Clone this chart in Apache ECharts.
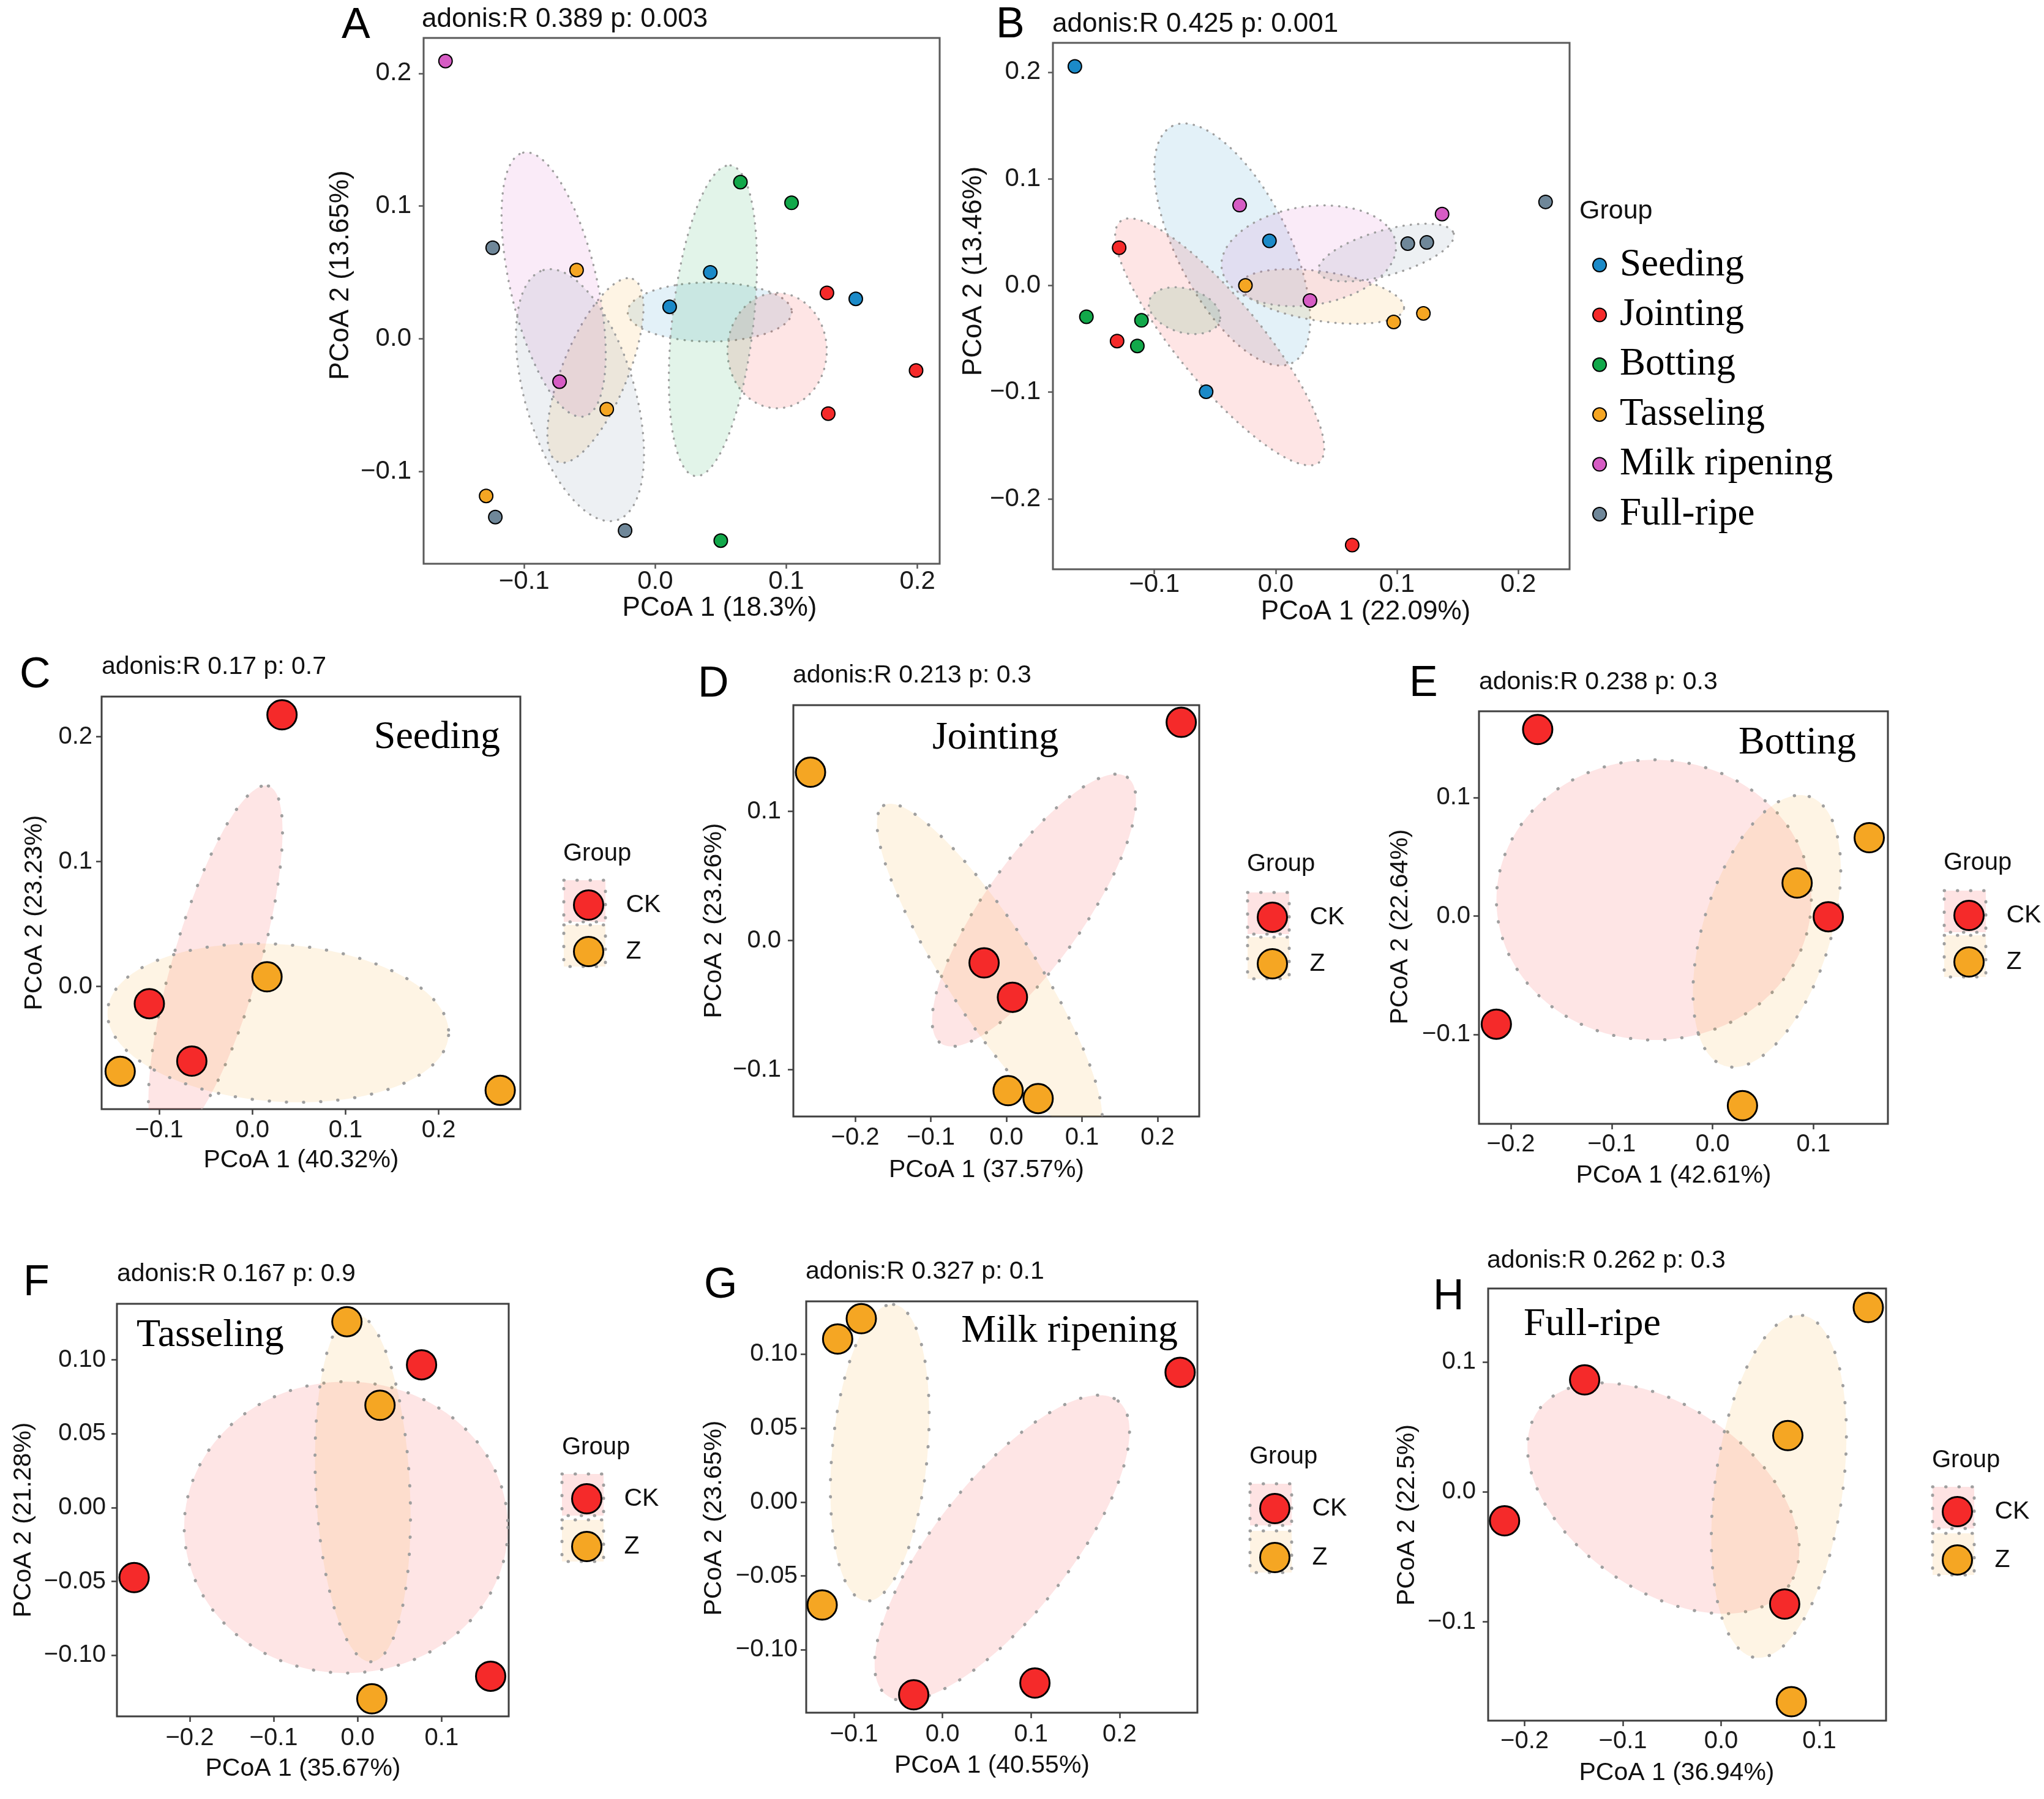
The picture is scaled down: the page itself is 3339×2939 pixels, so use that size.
<!DOCTYPE html>
<html><head><meta charset="utf-8">
<script src="https://cdn.jsdelivr.net/npm/echarts@6/dist/echarts.min.js"></script>
<style>html,body{margin:0;padding:0;background:#fff}#chart{width:3339px;height:2939px}</style>
</head><body><div id="chart"></div>
<script>
// ================= DATA =================
const stageGroups = ['Seeding','Jointing','Botting','Tasseling','Milk ripening','Full-ripe'];
const treatGroups = ['CK','Z'];

// ---- Panel A : all stages ----
const A_title = 'adonis:R 0.389 p: 0.003';
const A_xName = 'PCoA 1 (18.3%)';
const A_yName = 'PCoA 2 (13.65%)';
const A_xRange = [-0.1767, 0.217];
const A_yRange = [-0.1697, 0.2267];
const A_xTicks = [-0.1, 0, 0.1, 0.2];
const A_yTicks = [-0.1, 0, 0.1, 0.2];
const A_seeding   = [[0.011, 0.024], [0.042, 0.050], [0.153, 0.030]];
const A_jointing  = [[0.131, 0.0345], [0.199, -0.024], [0.132, -0.0565]];
const A_botting   = [[0.065, 0.118], [0.104, 0.1024], [0.050, -0.1523]];
const A_tasseling = [[-0.060, 0.0517], [-0.037, -0.0532], [-0.129, -0.1186]];
const A_milk      = [[-0.160, 0.2093], [-0.073, -0.0324]];
const A_fullripe  = [[-0.124, 0.0685], [-0.122, -0.1345], [-0.023, -0.1447]];
// ellipses: [centerX, centerY, tipX, tipY, minor/major ratio]
const A_ell_seeding   = [0.0416, 0.0201, 0.1042, 0.0201, 0.36];
const A_ell_jointing  = [0.093, -0.009, 0.093, 0.0345, 0.86];
const A_ell_botting   = [0.044, 0.0135, 0.0574, 0.1306, 0.26];
const A_ell_tasseling = [-0.0456, -0.024, -0.0171, 0.045, 0.33];
const A_ell_milk      = [-0.0775, 0.0408, -0.1008, 0.1402, 0.32];
const A_ell_fullripe  = [-0.0574, -0.0426, -0.0853, 0.0517, 0.42];

// ---- Panel B : all stages ----
const B_title = 'adonis:R 0.425 p: 0.001';
const B_xName = 'PCoA 1 (22.09%)';
const B_yName = 'PCoA 2 (13.46%)';
const B_xRange = [-0.1836, 0.2423];
const B_yRange = [-0.266, 0.2274];
const B_xTicks = [-0.1, 0, 0.1, 0.2];
const B_yTicks = [-0.2, -0.1, 0, 0.1, 0.2];
const B_seeding   = [[-0.1655, 0.2053], [-0.0051, 0.0418], [-0.0573, -0.0996]];
const B_jointing  = [[-0.129, 0.0354], [-0.1307, -0.0521], [0.0631, -0.2433]];
const B_botting   = [[-0.156, -0.0293], [-0.1106, -0.0327], [-0.114, -0.0567]];
const B_tasseling = [[-0.0249, 0.0], [0.0973, -0.0342], [0.1218, -0.0262]];
const B_milk      = [[-0.0297, 0.0753], [0.0283, -0.0141], [0.1372, 0.0669]];
const B_fullripe  = [[0.2225, 0.0783], [0.1089, 0.0392], [0.1246, 0.0403]];
const B_ell_seeding   = [-0.0358, 0.0384, -0.0853, 0.1494, 0.42];
const B_ell_jointing  = [-0.0461, -0.0529, -0.128, 0.0601, 0.27];
const B_ell_botting   = [-0.0751, -0.0236, -0.0461, -0.0331, 0.6];
const B_ell_tasseling = [0.0386, -0.0103, 0.1058, -0.0217, 0.3];
const B_ell_milk      = [0.0273, 0.0278, 0.099, 0.0399, 0.56];
const B_ell_fullripe  = [0.0911, 0.0308, 0.1468, 0.0487, 0.32];

// ---- Panel C : Seeding ----
const C_title = 'adonis:R 0.17 p: 0.7', C_stage = 'Seeding';
const C_xName = 'PCoA 1 (40.32%)', C_yName = 'PCoA 2 (23.23%)';
const C_xRange = [-0.1618, 0.2876], C_yRange = [-0.0983, 0.2322];
const C_xTicks = [-0.1, 0, 0.1, 0.2], C_yTicks = [0, 0.1, 0.2];
const C_CK = [[0.0318, 0.2176], [-0.1106, -0.0138], [-0.065, -0.0598]];
const C_Z  = [[0.0157, 0.0077], [-0.1419, -0.068], [0.266, -0.0832]];
const C_ell_CK = [-0.0396, 0.0168, 0.0171, 0.1606, 0.23];
const C_ell_Z  = [0.0276, -0.0292, 0.2106, -0.0391, 0.46];

// ---- Panel D : Jointing ----
const D_title = 'adonis:R 0.213 p: 0.3', D_stage = 'Jointing';
const D_xName = 'PCoA 1 (37.57%)', D_yName = 'PCoA 2 (23.26%)';
const D_xRange = [-0.2818, 0.2551], D_yRange = [-0.1362, 0.1822];
const D_xTicks = [-0.2, -0.1, 0, 0.1, 0.2], D_yTicks = [-0.1, 0, 0.1];
const D_CK = [[0.2313, 0.1689], [-0.0295, -0.0173], [0.008, -0.0439]];
const D_Z  = [[-0.2591, 0.1303], [0.0023, -0.1162], [0.042, -0.1223]];
const D_ell_CK = [0.0366, 0.0234, 0.1599, 0.1264, 0.31];
const D_ell_Z  = [-0.0222, -0.0229, -0.1625, 0.1045, 0.23];

// ---- Panel E : Botting ----
const E_title = 'adonis:R 0.238 p: 0.3', E_stage = 'Botting';
const E_xName = 'PCoA 1 (42.61%)', E_yName = 'PCoA 2 (22.64%)';
const E_xRange = [-0.2316, 0.1738], E_yRange = [-0.1756, 0.173];
const E_xTicks = [-0.2, -0.1, 0, 0.1], E_yTicks = [-0.1, 0, 0.1];
const E_CK = [[-0.1734, 0.1576], [-0.2144, -0.0914], [0.1147, -0.0006]];
const E_Z  = [[0.1553, 0.0662], [0.0838, 0.0279], [0.0296, -0.1602]];
const E_ell_CK = [-0.0582, 0.0136, 0.0979, 0.0136, 0.89];
const E_ell_Z  = [0.0538, -0.0128, 0.0957, 0.101, 0.45];

// ---- Panel F : Tasseling ----
const F_title = 'adonis:R 0.167 p: 0.9', F_stage = 'Tasseling';
const F_xName = 'PCoA 1 (35.67%)', F_yName = 'PCoA 2 (21.28%)';
const F_xRange = [-0.2867, 0.1799], F_yRange = [-0.1414, 0.138];
const F_xTicks = [-0.2, -0.1, 0, 0.1], F_yTicks = [-0.1, -0.05, 0, 0.05, 0.1];
const F_CK = [[0.0761, 0.0967], [-0.2662, -0.0474], [0.1584, -0.1142]];
const F_Z  = [[-0.0128, 0.1259], [0.0266, 0.0693], [0.0169, -0.1295]];
const F_ell_CK = [-0.0138, -0.0134, 0.179, -0.0134, 0.9];
const F_ell_Z  = [0.0061, 0.0134, -0.0041, 0.1312, 0.27];

// ---- Panel G : Milk ripening ----
const G_title = 'adonis:R 0.327 p: 0.1', G_stage = 'Milk ripening';
const G_xName = 'PCoA 1 (40.55%)', G_yName = 'PCoA 2 (23.65%)';
const G_xRange = [-0.1539, 0.2879], G_yRange = [-0.1425, 0.1358];
const G_xTicks = [-0.1, 0, 0.1, 0.2], G_yTicks = [-0.1, -0.05, 0, 0.05, 0.1];
const G_CK = [[0.2684, 0.0878], [-0.0325, -0.1304], [0.1044, -0.1224]];
const G_Z  = [[-0.0917, 0.1241], [-0.1184, 0.1103], [-0.1359, -0.0696]];
const G_ell_CK = [0.0673, -0.031, 0.1983, 0.0684, 0.36];
const G_ell_Z  = [-0.0708, 0.0334, -0.0553, 0.1337, 0.32];

// ---- Panel H : Full-ripe ----
const H_title = 'adonis:R 0.262 p: 0.3', H_stage = 'Full-ripe';
const H_xName = 'PCoA 1 (36.94%)', H_yName = 'PCoA 2 (22.5%)';
const H_xRange = [-0.2371, 0.1679], H_yRange = [-0.176, 0.1564];
const H_xTicks = [-0.2, -0.1, 0, 0.1], H_yTicks = [-0.1, 0, 0.1];
const H_CK = [[-0.1389, 0.0861], [-0.2204, -0.0223], [0.0647, -0.0863]];
const H_Z  = [[0.1498, 0.1418], [0.0679, 0.0433], [0.0715, -0.1614]];
const H_ell_CK = [-0.0588, -0.005, 0.0688, -0.0723, 0.6];
const H_ell_Z  = [0.0588, 0.0041, 0.0828, 0.1357, 0.37];

// ================= STYLE / LAYOUT =================
const COLORS = {
  'Seeding':'#1B8AC8','Jointing':'#F52A2A','Botting':'#12A84A','Tasseling':'#F5A623',
  'Milk ripening':'#D65CC4','Full-ripe':'#6F8799','CK':'#F52A2A','Z':'#F5A623'
};
const SANS = 'Liberation Sans, Arial, sans-serif';
const SERIF = 'Liberation Serif, Times New Roman, serif';

const LAYOUT = {
  A:{box:[692,62,1535,921], letter:[558,43], adonis:[689,32], xGap:49, xShift:62, yGap:113, yShift:-42, xLM:8, yLM:20},
  B:{box:[1720,70,2564,930], letter:[1627,42], adonis:[1719,40], xGap:48, xShift:89, yGap:104, yShift:-57, xLM:4, yLM:20},
  C:{box:[166,1138,850,1812], letter:[32,1104], adonis:[166,1090], stage:[817,1205,'right'], xGap:63, xShift:-16, yGap:89, yShift:16, xLM:15, yLM:15, leg:{group:[920,1395], icon:955, rows:[1472,1545]}},
  D:{box:[1296,1152,1959,1824], letter:[1140,1119], adonis:[1295,1104], stage:[1626,1206,'center'], xGap:67, xShift:-16, yGap:109, yShift:16, xLM:15, yLM:20, leg:{group:[2037,1412], icon:2072, rows:[1492,1565]}},
  E:{box:[2416,1162,3084,1836], letter:[2302,1118], adonis:[2416,1115], stage:[3032,1214,'right'], xGap:64, xShift:-16, yGap:108, yShift:15, xLM:14, yLM:14, leg:{group:[3175,1410], icon:3210, rows:[1489,1562]}},
  F:{box:[191,2130,831,2804], letter:[38,2097], adonis:[191,2082], stage:[223,2182,'left'], xGap:65, xShift:-16, yGap:132, yShift:16, xLM:16, yLM:18, leg:{group:[918,2365], icon:952, rows:[2442,2517]}},
  G:{box:[1317,2126,1956,2798], letter:[1150,2101], adonis:[1316,2078], stage:[1924,2175,'right'], xGap:66, xShift:-16, yGap:130, yShift:18, xLM:16, yLM:14, leg:{group:[2041,2380], icon:2076, rows:[2458,2535]}},
  H:{box:[2431,2105,3081,2811], letter:[2341,2120], adonis:[2429,2060], stage:[2489,2164,'left'], xGap:65, xShift:-17, yGap:112, yShift:17, xLM:14, yLM:20, leg:{group:[3156,2386], icon:3191, rows:[2463,2539]}}
};
const BIG = {tick:42, name:44, adonis:44, sym:22, symBorder:2, dotW:3.5, dash:[0.5,11.5], tickLen:8, border:'#5a5a5a'};
const SMALL = {tick:40, name:41, adonis:41, sym:48, symBorder:3, dotW:5, dash:[0.5,27.5], tickLen:9, border:'#3f3f3f'};

const panels = [
  {id:'A', L:LAYOUT.A, S:BIG, names:stageGroups, pts:[A_seeding,A_jointing,A_botting,A_tasseling,A_milk,A_fullripe],
   ell:[A_ell_seeding,A_ell_jointing,A_ell_botting,A_ell_tasseling,A_ell_milk,A_ell_fullripe],
   xr:A_xRange, yr:A_yRange, xt:A_xTicks, yt:A_yTicks, xd:1, yd:1, title:A_title, xName:A_xName, yName:A_yName},
  {id:'B', L:LAYOUT.B, S:BIG, names:stageGroups, pts:[B_seeding,B_jointing,B_botting,B_tasseling,B_milk,B_fullripe],
   ell:[B_ell_seeding,B_ell_jointing,B_ell_botting,B_ell_tasseling,B_ell_milk,B_ell_fullripe],
   xr:B_xRange, yr:B_yRange, xt:B_xTicks, yt:B_yTicks, xd:1, yd:1, title:B_title, xName:B_xName, yName:B_yName},
  {id:'C', L:LAYOUT.C, S:SMALL, names:treatGroups, pts:[C_CK,C_Z], ell:[C_ell_CK,C_ell_Z], xr:C_xRange, yr:C_yRange, xt:C_xTicks, yt:C_yTicks, xd:1, yd:1, title:C_title, stage:C_stage, xName:C_xName, yName:C_yName},
  {id:'D', L:LAYOUT.D, S:SMALL, names:treatGroups, pts:[D_CK,D_Z], ell:[D_ell_CK,D_ell_Z], xr:D_xRange, yr:D_yRange, xt:D_xTicks, yt:D_yTicks, xd:1, yd:1, title:D_title, stage:D_stage, xName:D_xName, yName:D_yName},
  {id:'E', L:LAYOUT.E, S:SMALL, names:treatGroups, pts:[E_CK,E_Z], ell:[E_ell_CK,E_ell_Z], xr:E_xRange, yr:E_yRange, xt:E_xTicks, yt:E_yTicks, xd:1, yd:1, title:E_title, stage:E_stage, xName:E_xName, yName:E_yName},
  {id:'F', L:LAYOUT.F, S:SMALL, names:treatGroups, pts:[F_CK,F_Z], ell:[F_ell_CK,F_ell_Z], xr:F_xRange, yr:F_yRange, xt:F_xTicks, yt:F_yTicks, xd:1, yd:2, title:F_title, stage:F_stage, xName:F_xName, yName:F_yName},
  {id:'G', L:LAYOUT.G, S:SMALL, names:treatGroups, pts:[G_CK,G_Z], ell:[G_ell_CK,G_ell_Z], xr:G_xRange, yr:G_yRange, xt:G_xTicks, yt:G_yTicks, xd:1, yd:2, title:G_title, stage:G_stage, xName:G_xName, yName:G_yName},
  {id:'H', L:LAYOUT.H, S:SMALL, names:treatGroups, pts:[H_CK,H_Z], ell:[H_ell_CK,H_ell_Z], xr:H_xRange, yr:H_yRange, xt:H_xTicks, yt:H_yTicks, xd:1, yd:1, title:H_title, stage:H_stage, xName:H_xName, yName:H_yName}
];

// ================= BUILD =================
function rgba(hex, a){const n=parseInt(hex.slice(1),16);return 'rgba('+((n>>16)&255)+','+((n>>8)&255)+','+(n&255)+','+a+')';}
function fmt(dec){return v=>(v<0?'\u2212':'')+Math.abs(v).toFixed(dec);}
function ellipseRender(fill, lw, dash){
  return function(params, api){
    const c = api.coord([api.value(0), api.value(1)]);
    const t = api.coord([api.value(2), api.value(3)]);
    const r = api.value(4);
    const ux=t[0]-c[0], uy=t[1]-c[1], vx=-uy*r, vy=ux*r;
    const pts=[];
    for(let k=0;k<160;k++){const a=k/160*Math.PI*2;pts.push([c[0]+ux*Math.cos(a)+vx*Math.sin(a), c[1]+uy*Math.cos(a)+vy*Math.sin(a)]);}
    const cs=params.coordSys;
    return {type:'polygon', shape:{points:pts},
      style:{fill:fill, stroke:'#9f9f9f', lineWidth:lw, lineDash:dash, lineCap:'round'},
      clipPath:{type:'rect', shape:{x:cs.x, y:cs.y, width:cs.width, height:cs.height}}};
  };
}
function namePad(shift){return shift>=0?[0,0,0,2*shift]:[0,-2*shift,0,0];}

const grid=[], xAxis=[], yAxis=[], series=[], graphic=[], legend=[];
panels.forEach((p,i)=>{
  const L=p.L, S=p.S, b=L.box;
  grid.push({left:b[0], top:b[1], width:b[2]-b[0], height:b[3]-b[1], show:true, borderColor:S.border, borderWidth:3, backgroundColor:'rgba(0,0,0,0)'});
  const tickStyle={color:S.border, width:2.5};
  xAxis.push({gridIndex:i, type:'value', min:p.xr[0], max:p.xr[1], position:'bottom',
    axisLine:{show:false, onZero:false}, splitLine:{show:false},
    axisTick:{show:true, length:S.tickLen, lineStyle:tickStyle, customValues:p.xt},
    axisLabel:{customValues:p.xt, formatter:fmt(p.xd), fontSize:S.tick, color:'#1a1a1a', fontFamily:SANS, margin:L.xLM},
    name:p.xName, nameLocation:'middle', nameGap:L.xGap,
    nameTextStyle:{fontSize:S.name, color:'#111', fontFamily:SANS, padding:namePad(L.xShift)}});
  yAxis.push({gridIndex:i, type:'value', min:p.yr[0], max:p.yr[1], position:'left',
    axisLine:{show:false, onZero:false}, splitLine:{show:false},
    axisTick:{show:true, length:S.tickLen, lineStyle:tickStyle, customValues:p.yt},
    axisLabel:{customValues:p.yt, formatter:fmt(p.yd), fontSize:S.tick, color:'#1a1a1a', fontFamily:SANS, margin:L.yLM},
    name:p.yName, nameLocation:'middle', nameGap:L.yGap,
    nameTextStyle:{fontSize:S.name, color:'#111', fontFamily:SANS, padding:namePad(-L.yShift)}});
  // ellipses
  p.names.forEach((g,k)=>{
    series.push({type:'custom', name:g+' ellipse '+p.id, xAxisIndex:i, yAxisIndex:i, silent:true, z:1,
      data:[p.ell[k]], encode:{x:[0,2], y:[1,3]},
      renderItem:ellipseRender(rgba(COLORS[g], 0.12), S.dotW, S.dash)});
  });
  // points
  p.names.forEach((g,k)=>{
    series.push({type:'scatter', name:g, xAxisIndex:i, yAxisIndex:i, z:5, silent:true, clip:false,
      symbol:'circle', symbolSize:S.sym, data:p.pts[k],
      itemStyle:{color:COLORS[g], borderColor:'#000', borderWidth:S.symBorder, opacity:1}});
  });
  // texts
  graphic.push({type:'text', x:L.letter[0], y:L.letter[1], z:10,
    style:{text:p.id, fontSize:70, fontFamily:SANS, fill:'#000', align:'left', verticalAlign:'middle'}});
  graphic.push({type:'text', x:L.adonis[0], y:L.adonis[1], z:10,
    style:{text:p.title, fontSize:S.adonis, fontFamily:SANS, fill:'#111', align:'left', verticalAlign:'middle'}});
  if(p.stage){
    graphic.push({type:'text', x:L.stage[0], y:L.stage[1], z:10,
      style:{text:p.stage, fontSize:64, fontFamily:SERIF, fill:'#000', align:L.stage[2], verticalAlign:'middle'}});
  }
  if(L.leg){
    const lg=L.leg;
    graphic.push({type:'text', x:lg.group[0], y:lg.group[1], z:10,
      style:{text:'Group', fontSize:40, fontFamily:SANS, fill:'#111', align:'left', verticalAlign:'middle'}});
    treatGroups.forEach((g,k)=>{
      graphic.push({type:'rect', z:0, shape:{x:lg.icon-34, y:lg.rows[k]-34, width:68, height:68},
        style:{fill:rgba(COLORS[g],0.13), stroke:'#9f9f9f', lineWidth:5, lineDash:[0.5,21], lineCap:'round'}});
    });
    legend.push({orient:'vertical', left:lg.icon-24, top:lg.rows[0]-24, itemWidth:48, itemHeight:48,
      itemGap:(lg.rows[1]-lg.rows[0])-48, data:treatGroups, selectedMode:false, z:20,
      textStyle:{fontSize:41, fontFamily:SANS, color:'#111', padding:[0,0,0,32]},
      itemStyle:{borderColor:'#000', borderWidth:3}});
  }
});
// stage legend (panels A & B)
graphic.push({type:'text', x:2580, y:345, z:10,
  style:{text:'Group', fontSize:43, fontFamily:SANS, fill:'#111', align:'left', verticalAlign:'middle'}});
legend.push({orient:'vertical', left:2596, top:428-31.5, itemWidth:22, itemHeight:22, itemGap:18.4,
  data:stageGroups, selectedMode:false, z:20,
  textStyle:{fontSize:63, fontFamily:SERIF, color:'#000', padding:[0,0,0,17]},
  itemStyle:{borderColor:'#000', borderWidth:2}});

const chart = echarts.init(document.getElementById('chart'), null, {renderer:'canvas'});
chart.setOption({animation:false, backgroundColor:'#fff', grid, xAxis, yAxis, series, legend, graphic, tooltip:{show:false}});
</script></body></html>
